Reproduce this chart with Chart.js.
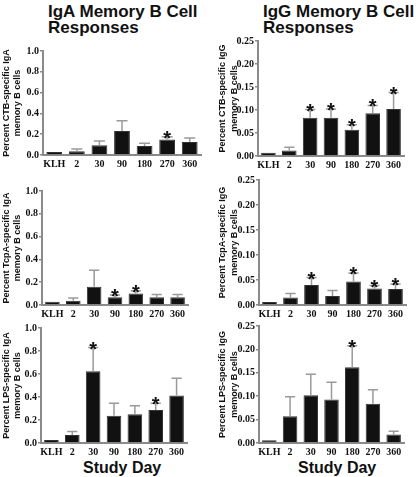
<!DOCTYPE html>
<html>
<head>
<meta charset="utf-8">
<script src="https://cdn.jsdelivr.net/npm/chart.js@4.4.1/dist/chart.umd.min.js"></script>
<style>
  html, body { margin: 0; padding: 0; background: #fff; overflow: hidden; }
  body { width: 416px; height: 477px; position: relative; }
  canvas { position: absolute; }
  .ttl { position: absolute; font: bold 17px 'Liberation Sans', Arial, sans-serif; line-height: 16px; white-space: nowrap; color: #111; }
  .xt { position: absolute; font: bold 16px 'Liberation Sans', Arial, sans-serif; line-height: 16px; white-space: nowrap; color: #111; }
</style>
</head>
<body>
<div class="ttl" style="left:48px;top:4px">IgA Memory B Cell<br>Responses</div>
<div class="ttl" style="left:263px;top:4px">IgG Memory B Cell<br>Responses</div>
<div class="xt" style="left:83px;top:460px">Study Day</div>
<div class="xt" style="left:298px;top:460px">Study Day</div>

<canvas id="igaCtb"></canvas>
<canvas id="igaTcpa"></canvas>
<canvas id="igaLps"></canvas>
<canvas id="iggCtb"></canvas>
<canvas id="iggTcpa"></canvas>
<canvas id="iggLps"></canvas>

<script>
// study days
var days = ['KLH', '2', '30', '90', '180', '270', '360']

// IgA panels (mean, SEM, indexes with *)
var igaCtbMean = [0.03, 0.035, 0.093, 0.23, 0.086, 0.15, 0.125]
var igaCtbSem = [0, 0.023, 0.041, 0.10, 0.026, 0.026, 0.038]
var igaCtbStars = [5]

var igaTcpaMean = [0.028, 0.038, 0.16, 0.067, 0.10, 0.067, 0.067]
var igaTcpaSem = [0, 0.023, 0.145, 0.02, 0.025, 0.026, 0.026]
var igaTcpaStars = [3, 4]

var igaLpsMean = [0.026, 0.069, 0.625, 0.236, 0.25, 0.288, 0.412]
var igaLpsSem = [0, 0.031, 0.205, 0.11, 0.073, 0.058, 0.15]
var igaLpsStars = [2, 5]

// IgG panels
var iggCtbMean = [0.007, 0.012, 0.083, 0.083, 0.057, 0.093, 0.102]
var iggCtbSem = [0, 0.007, 0.018, 0.019, 0.011, 0.017, 0.036]
var iggCtbStars = [2, 3, 4, 5, 6]

var iggTcpaMean = [0.006, 0.015, 0.040, 0.018, 0.047, 0.033, 0.032]
var iggTcpaSem = [0, 0.008, 0.015, 0.011, 0.017, 0.006, 0.010]
var iggTcpaStars = [2, 4, 5, 6]

var iggLpsMean = [0.006, 0.057, 0.102, 0.093, 0.162, 0.084, 0.018]
var iggLpsSem = [0, 0.042, 0.045, 0.037, 0.046, 0.030, 0.007]
var iggLpsStars = [4]

// y axis ranges / tick labels
var igaMax = 1.0, igaStep = 0.2, igaDigits = 1
var iggMax = 0.25, iggStep = 0.05, iggDigits = 2

var axisGrey = '#8a8a8a'

// error bars, significance stars and the two-line rotated y title
function panelPlugin(mean, sem, stars, yTitle, titleX, titleGap) {
  return {
    id: 'panelExtras',
    afterDatasetsDraw: function (chart) {
      var meta = chart.getDatasetMeta(0)
      var yScale = chart.scales.y
      var ctx = chart.ctx
      ctx.save()
      meta.data.forEach(function (bar, i) {
        var yTop = yScale.getPixelForValue(mean[i] + sem[i])
        if (sem[i] > 0) {
          var cap = bar.width * 0.7
          ctx.strokeStyle = '#9a9a9a'
          ctx.lineWidth = 1.5
          ctx.beginPath()
          ctx.moveTo(bar.x, bar.y)
          ctx.lineTo(bar.x, yTop)
          ctx.moveTo(bar.x - cap / 2, yTop)
          ctx.lineTo(bar.x + cap / 2, yTop)
          ctx.stroke()
        }
        if (stars.includes(i)) {
          ctx.fillStyle = '#111'
          ctx.font = 'bold 20px "Liberation Sans", Arial, sans-serif'
          ctx.textAlign = 'center'
          ctx.textBaseline = 'alphabetic'
          ctx.fillText('*', bar.x, yTop + 8)
        }
      })
      ctx.restore()
    },
    afterDraw: function (chart) {
      var ctx = chart.ctx
      var area = chart.chartArea
      ctx.save()
      ctx.translate(titleX, (area.top + area.bottom) / 2)
      ctx.rotate(-Math.PI / 2)
      ctx.fillStyle = '#111'
      ctx.font = 'bold 9px "Liberation Sans", Arial, sans-serif'
      ctx.textAlign = 'center'
      ctx.textBaseline = 'middle'
      yTitle.forEach(function (line, k) {
        ctx.fillText(line, 0, k * titleGap)
      })
      ctx.restore()
    }
  }
}

// box = [canvasLeft, canvasTop, canvasWidth, canvasHeight, yAxisWidth, padTop, padRight, titleX, titleGap]
function makePanel(id, box, mean, sem, stars, yTitle, yMax, yStep, digits) {
  var cv = document.getElementById(id)
  cv.style.left = box[0] + 'px'
  cv.style.top = box[1] + 'px'
  cv.width = box[2]
  cv.height = box[3]

  return new Chart(cv.getContext('2d'), {
    type: 'bar',
    data: {
      labels: days,
      datasets: [{
        data: mean,
        backgroundColor: '#111',
        borderColor: '#333',
        borderWidth: 1,
        barPercentage: 0.7,
        categoryPercentage: 1.0
      }]
    },
    options: {
      responsive: false,
      animation: false,
      layout: { padding: { left: 0, top: box[5], right: box[6], bottom: 0 } },
      plugins: { legend: { display: false }, tooltip: { enabled: false } },
      scales: {
        x: {
          grid: { display: false, drawTicks: false },
          border: { display: true, color: axisGrey, width: 2 },
          ticks: {
            color: '#111',
            padding: 3,
            maxRotation: 0,
            autoSkip: false,
            font: { family: "'Liberation Serif', 'Times New Roman', serif", size: 10, weight: 'bold' }
          },
          afterFit: function (scale) { scale.height = 18 }
        },
        y: {
          min: 0,
          max: yMax,
          grid: { display: true, drawOnChartArea: false, drawTicks: true, tickLength: 3, color: axisGrey, lineWidth: 1.5 },
          border: { display: true, color: axisGrey, width: 2 },
          ticks: {
            stepSize: yStep,
            color: '#111',
            padding: 1,
            font: { family: "'Liberation Serif', 'Times New Roman', serif", size: 10, weight: 'bold' },
            callback: function (value) { return Number(value).toFixed(digits) }
          },
          afterFit: function (scale) { scale.width = box[4] }
        }
      }
    },
    plugins: [panelPlugin(mean, sem, stars, yTitle, box[7], box[8])]
  })
}

makePanel('igaCtb', [0, 38, 208, 135, 43, 13, 7, 7, 10.5], igaCtbMean, igaCtbSem, igaCtbStars,
  ['Percent CTB-specific IgA', 'memory B cells'], igaMax, igaStep, igaDigits)
makePanel('igaTcpa', [0, 178, 208, 145, 42, 13, 20, 7, 10.5], igaTcpaMean, igaTcpaSem, igaTcpaStars,
  ['Percent TcpA-specific IgA', 'memory B cells'], igaMax, igaStep, igaDigits)
makePanel('igaLps', [0, 315, 208, 146, 41, 13, 21, 7, 10.5], igaLpsMean, igaLpsSem, igaLpsStars,
  ['Percent LPS-specific IgA', 'memory B cells'], igaMax, igaStep, igaDigits)

makePanel('iggCtb', [208, 28, 208, 146, 50, 13, 12, 15, 11.5], iggCtbMean, iggCtbSem, iggCtbStars,
  ['Percent CTB-specific IgG', 'memory B cells'], iggMax, iggStep, iggDigits)
makePanel('iggTcpa', [208, 167, 208, 156, 51, 13, 10, 15, 11.5], iggTcpaMean, iggTcpaSem, iggTcpaStars,
  ['Percent TcpA-specific IgG', 'memory B cells'], iggMax, iggStep, iggDigits)
makePanel('iggLps', [208, 313, 208, 148, 51, 13, 12, 15, 11.5], iggLpsMean, iggLpsSem, iggLpsStars,
  ['Percent LPS-specific IgG', 'memory B cells'], iggMax, iggStep, iggDigits)
</script>
</body>
</html>
